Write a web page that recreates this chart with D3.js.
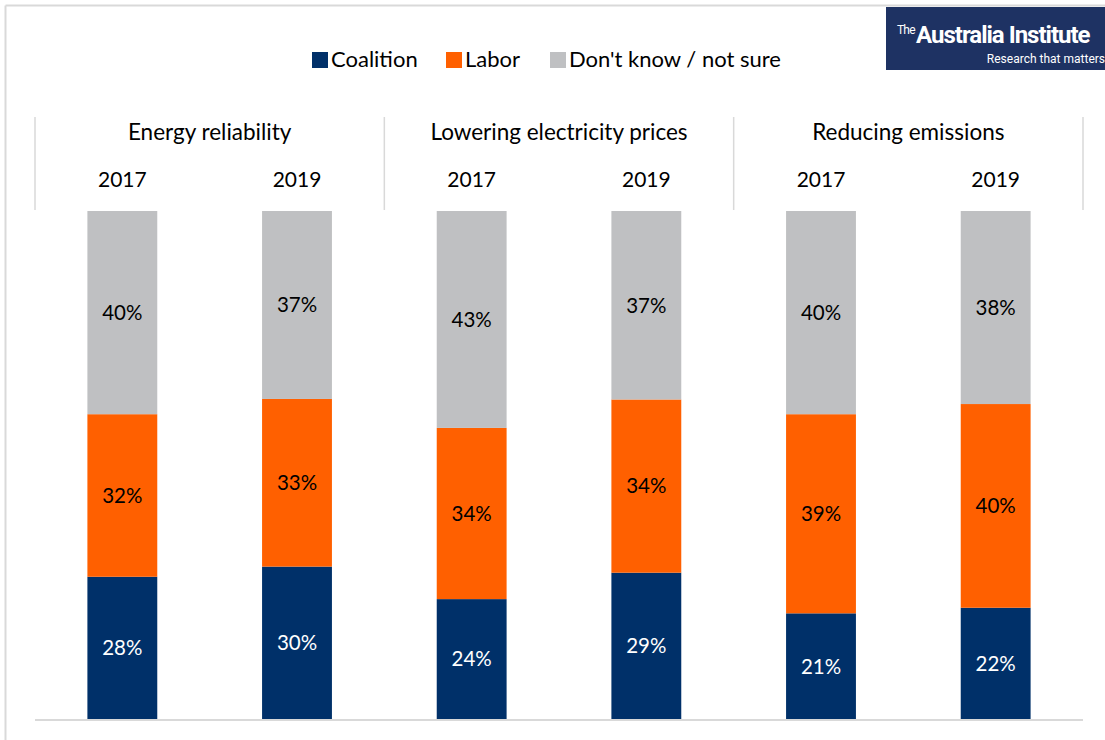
<!DOCTYPE html>
<html>
<head>
<meta charset="utf-8">
<script src="https://cdn.jsdelivr.net/npm/d3@7"></script>
<style>
  body { margin: 0; background: #fff; }
  text { font-family: Lato, "Open Sans", sans-serif; }
</style>
</head>
<body>
<svg id="chart" width="1105" height="740"></svg>
<script>
// values (percent)
var topics = ["Energy reliability", "Lowering electricity prices", "Reducing emissions"];
var years = ["2017", "2019"];
var seriesNames = ["Coalition", "Labor", "Don't know / not sure"];
var coalition = [28, 30, 23.6, 28.8, 20.8, 21.9];
var labor = [32, 33, 33.7, 34.1, 39.2, 40.1];
var dontKnow = [40, 37, 42.7, 37.1, 40.0, 38.0];
var colors = ["#003069", "#ff6000", "#bfc0c2"];

var rows = [];
topics.forEach(function(t, i) {
  years.forEach(function(y, j) {
    var k = i * 2 + j;
    rows.push({topic: t, year: y, c: coalition[k], l: labor[k], d: dontKnow[k]});
  });
});

var svg = d3.select("#chart");

// outer frame (top + left only visible)
svg.append("line").attr("x1", 5.5).attr("x2", 1105).attr("y1", 5.5).attr("y2", 5.5)
  .style("stroke", "#d9d9d9").style("stroke-width", 2);
svg.append("line").attr("x1", 5.5).attr("x2", 5.5).attr("y1", 5.5).attr("y2", 740)
  .style("stroke", "#d9d9d9").style("stroke-width", 2);

var x0 = d3.scaleBand().domain(topics).range([35, 1083]);
var x1 = d3.scaleBand().domain(years).range([0, x0.bandwidth()])
  .paddingInner(0.6).paddingOuter(0.3);
var y = d3.scaleLinear().domain([0, 100]).range([719, 211]);

var stack = d3.stack().keys(["c", "l", "d"]);
var layers = stack(rows);

// group separators
var seps = x0.domain().map(function(t) { return x0(t); }).concat([x0.range()[1]]);
svg.selectAll("line.sep").data(seps).enter().append("line")
  .attr("class", "sep")
  .attr("x1", function(d) { return d; }).attr("x2", function(d) { return d; })
  .attr("y1", 117).attr("y2", 210)
  .style("stroke", "#d9d9d9").style("stroke-width", 1.5);

// bars
var layerG = svg.selectAll("g.layer").data(layers).enter().append("g")
  .attr("class", "layer")
  .style("fill", function(d, i) { return colors[i]; });

layerG.selectAll("rect").data(function(d) { return d; }).enter().append("rect")
  .attr("x", function(d) { return x0(d.data.topic) + x1(d.data.year); })
  .attr("width", x1.bandwidth())
  .attr("y", function(d) { return y(d[1]); })
  .attr("height", function(d) { return y(d[0]) - y(d[1]); });

layerG.each(function(layer, li) {
  d3.select(this.parentNode).append("g").selectAll("text").data(layer).enter().append("text")
    .attr("x", function(d) { return x0(d.data.topic) + x1(d.data.year) + x1.bandwidth() / 2; })
    .attr("y", function(d) { return (y(d[0]) + y(d[1])) / 2; })
    .attr("dy", "0.36em")
    .style("text-anchor", "middle")
    .style("font-size", "20.5px")
    .style("fill", li == 0 ? "#fff" : "#000")
    .text(function(d) { return Math.round(d[1] - d[0]) + "%"; });
});

// baseline
svg.append("line").attr("x1", 35).attr("x2", 1083).attr("y1", 720).attr("y2", 720)
  .style("stroke", "#d9d9d9").style("stroke-width", 2);

// topic titles and years
svg.selectAll("text.topic").data(topics).enter().append("text")
  .attr("class", "topic")
  .attr("x", function(d) { return x0(d) + x0.bandwidth() / 2; })
  .attr("y", 140)
  .style("text-anchor", "middle").style("font-size", "22.5px")
  .text(function(d) { return d; });

svg.selectAll("text.year").data(rows).enter().append("text")
  .attr("class", "year")
  .attr("x", function(d) { return x0(d.topic) + x1(d.year) + x1.bandwidth() / 2; })
  .attr("y", 187)
  .style("text-anchor", "middle").style("font-size", "21px")
  .text(function(d) { return d.year; });

// legend
var legendX = [312, 446, 550];
var legend = svg.selectAll("g.legend").data(seriesNames).enter().append("g")
  .attr("class", "legend")
  .attr("transform", function(d, i) { return "translate(" + legendX[i] + ",52)"; });
legend.append("rect").attr("width", 16).attr("height", 16)
  .style("fill", function(d, i) { return colors[i]; });
legend.append("text").attr("x", 19).attr("y", 15)
  .style("font-size", "22px")
  .text(function(d) { return d; });

// logo
var logo = svg.append("g");
logo.append("rect").attr("x", 886).attr("y", 7).attr("width", 219).attr("height", 63)
  .style("fill", "#1e3263");
logo.append("text").attr("x", 897).attr("y", 34)
  .style("fill", "#fff").style("font-size", "12px").style("letter-spacing", "-0.8px")
  .style("font-family", "'Liberation Sans Narrow', 'Roboto', sans-serif")
  .text("The");
logo.append("text").attr("x", 916).attr("y", 43)
  .style("fill", "#fff").style("font-size", "24px").style("font-weight", "bold")
  .style("font-family", "'Liberation Sans Narrow', 'Roboto', sans-serif")
  .style("letter-spacing", "-1px")
  .text("Australia Institute");
logo.append("text").attr("x", 1105).attr("y", 63)
  .style("fill", "#fff").style("font-size", "12px").style("text-anchor", "end")
  .style("font-family", "'Liberation Sans Narrow', 'Roboto', sans-serif")
  .text("Research that matters");
</script>
</body>
</html>
